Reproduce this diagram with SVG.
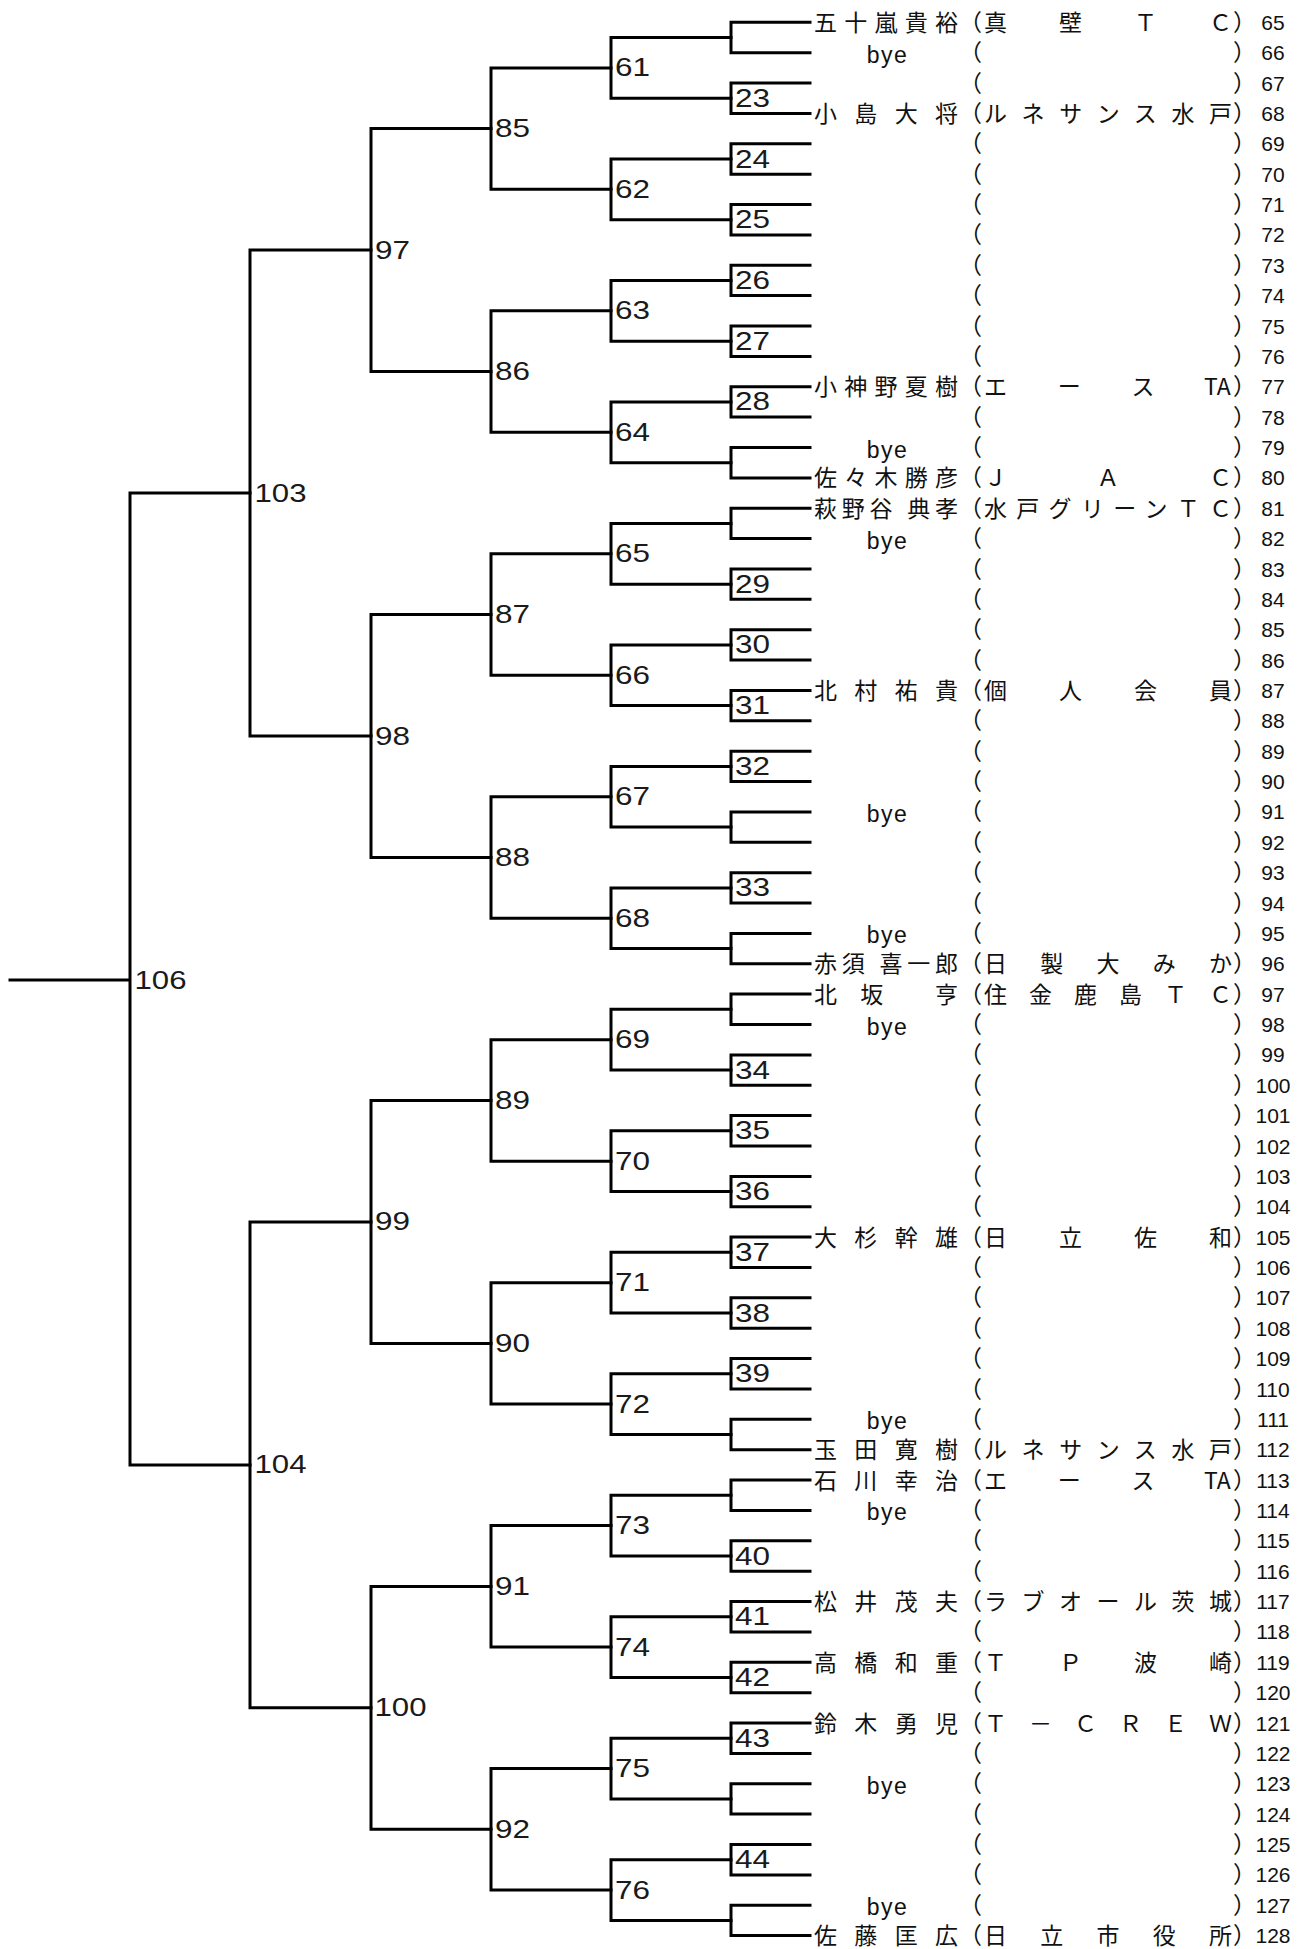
<svg xmlns="http://www.w3.org/2000/svg" width="1303" height="1949" viewBox="0 0 1303 1949">
<style>
.ln{fill:none;stroke:#000;stroke-width:3;stroke-linecap:square;stroke-linejoin:miter}
.lb{font-family:"Liberation Sans",Arial,sans-serif;font-size:25px;fill:#1a1a1a}
.nm{font-family:"Noto Sans CJK JP","Noto Sans CJK SC",sans-serif;font-size:23px;fill:#111}
.pl{font-family:"Noto Sans CJK JP","Noto Sans CJK SC",sans-serif;font-size:23px;fill:#111;text-anchor:end}
.pr{font-family:"Noto Sans CJK JP","Noto Sans CJK SC",sans-serif;font-size:23px;fill:#111}
.by{font-family:"Liberation Sans",Arial,sans-serif;font-size:23px;letter-spacing:1.5px;text-anchor:middle;fill:#111}
.rn{font-family:"Liberation Sans",Arial,sans-serif;font-size:21px;text-anchor:middle;fill:#111}
</style>
<rect width="1303" height="1949" fill="#fff"/>
<g id="connectors" class="ln">
<path d="M810 22.3H731V52.7H810M810 83H731V113.4H810M810 143.8H731V174.2H810M810 204.5H731V234.9H810M810 265.3H731V295.6H810M810 326H731V356.4H810M810 386.7H731V417.1H810M810 447.5H731V477.9H810M810 508.2H731V538.6H810M810 569H731V599.3H810M810 629.7H731V660.1H810M810 690.4H731V720.8H810M810 751.2H731V781.6H810M810 811.9H731V842.3H810M810 872.7H731V903H810M810 933.4H731V963.8H810M810 994.1H731V1024.5H810M810 1054.9H731V1085.3H810M810 1115.6H731V1146H810M810 1176.4H731V1206.7H810M810 1237.1H731V1267.5H810M810 1297.8H731V1328.2H810M810 1358.6H731V1389H810M810 1419.3H731V1449.7H810M810 1480.1H731V1510.4H810M810 1540.8H731V1571.2H810M810 1601.5H731V1631.9H810M810 1662.3H731V1692.7H810M810 1723H731V1753.4H810M810 1783.8H731V1814.1H810M810 1844.5H731V1874.9H810M810 1905.2H731V1935.6H810"/>
<path d="M731 37.5H611V98.2H731M731 159H611V219.7H731M731 280.5H611V341.2H731M731 401.9H611V462.7H731M731 523.4H611V584.2H731M731 644.9H611V705.6H731M731 766.4H611V827.1H731M731 887.9H611V948.6H731M731 1009.3H611V1070.1H731M731 1130.8H611V1191.6H731M731 1252.3H611V1313H731M731 1373.8H611V1434.5H731M731 1495.3H611V1556H731M731 1616.7H611V1677.5H731M731 1738.2H611V1799H731M731 1859.7H611V1920.4H731"/>
<path d="M611 67.9H491V189.3H611M611 310.8H491V432.3H611M611 553.8H491V675.3H611M611 796.7H491V918.2H611M611 1039.7H491V1161.2H611M611 1282.7H491V1404.1H611M611 1525.6H491V1647.1H611M611 1768.6H491V1890.1H611"/>
<path d="M491 128.6H371V371.6H491M491 614.5H371V857.5H491M491 1100.4H371V1343.4H491M491 1586.4H371V1829.3H491"/>
<path d="M371 250.1H250V736H371M371 1221.9H250V1707.8H371"/>
<path d="M250 493H130V1464.9H250M130 980H10"/>
</g>
<g id="matches" class="lb">
<g id="m23"><text x="735" y="106.7" textLength="35" lengthAdjust="spacingAndGlyphs">23</text></g>
<g id="m24"><text x="735" y="167.5" textLength="35" lengthAdjust="spacingAndGlyphs">24</text></g>
<g id="m25"><text x="735" y="228.2" textLength="35" lengthAdjust="spacingAndGlyphs">25</text></g>
<g id="m26"><text x="735" y="289" textLength="35" lengthAdjust="spacingAndGlyphs">26</text></g>
<g id="m27"><text x="735" y="349.7" textLength="35" lengthAdjust="spacingAndGlyphs">27</text></g>
<g id="m28"><text x="735" y="410.4" textLength="35" lengthAdjust="spacingAndGlyphs">28</text></g>
<g id="m29"><text x="735" y="592.7" textLength="35" lengthAdjust="spacingAndGlyphs">29</text></g>
<g id="m30"><text x="735" y="653.4" textLength="35" lengthAdjust="spacingAndGlyphs">30</text></g>
<g id="m31"><text x="735" y="714.1" textLength="35" lengthAdjust="spacingAndGlyphs">31</text></g>
<g id="m32"><text x="735" y="774.9" textLength="35" lengthAdjust="spacingAndGlyphs">32</text></g>
<g id="m33"><text x="735" y="896.4" textLength="35" lengthAdjust="spacingAndGlyphs">33</text></g>
<g id="m34"><text x="735" y="1078.6" textLength="35" lengthAdjust="spacingAndGlyphs">34</text></g>
<g id="m35"><text x="735" y="1139.3" textLength="35" lengthAdjust="spacingAndGlyphs">35</text></g>
<g id="m36"><text x="735" y="1200.1" textLength="35" lengthAdjust="spacingAndGlyphs">36</text></g>
<g id="m37"><text x="735" y="1260.8" textLength="35" lengthAdjust="spacingAndGlyphs">37</text></g>
<g id="m38"><text x="735" y="1321.5" textLength="35" lengthAdjust="spacingAndGlyphs">38</text></g>
<g id="m39"><text x="735" y="1382.3" textLength="35" lengthAdjust="spacingAndGlyphs">39</text></g>
<g id="m40"><text x="735" y="1564.5" textLength="35" lengthAdjust="spacingAndGlyphs">40</text></g>
<g id="m41"><text x="735" y="1625.2" textLength="35" lengthAdjust="spacingAndGlyphs">41</text></g>
<g id="m42"><text x="735" y="1686" textLength="35" lengthAdjust="spacingAndGlyphs">42</text></g>
<g id="m43"><text x="735" y="1746.7" textLength="35" lengthAdjust="spacingAndGlyphs">43</text></g>
<g id="m44"><text x="735" y="1868.2" textLength="35" lengthAdjust="spacingAndGlyphs">44</text></g>
<g id="m61"><text x="615" y="76.4" textLength="35" lengthAdjust="spacingAndGlyphs">61</text></g>
<g id="m62"><text x="615" y="197.8" textLength="35" lengthAdjust="spacingAndGlyphs">62</text></g>
<g id="m63"><text x="615" y="319.3" textLength="35" lengthAdjust="spacingAndGlyphs">63</text></g>
<g id="m64"><text x="615" y="440.8" textLength="35" lengthAdjust="spacingAndGlyphs">64</text></g>
<g id="m65"><text x="615" y="562.3" textLength="35" lengthAdjust="spacingAndGlyphs">65</text></g>
<g id="m66"><text x="615" y="683.8" textLength="35" lengthAdjust="spacingAndGlyphs">66</text></g>
<g id="m67"><text x="615" y="805.2" textLength="35" lengthAdjust="spacingAndGlyphs">67</text></g>
<g id="m68"><text x="615" y="926.7" textLength="35" lengthAdjust="spacingAndGlyphs">68</text></g>
<g id="m69"><text x="615" y="1048.2" textLength="35" lengthAdjust="spacingAndGlyphs">69</text></g>
<g id="m70"><text x="615" y="1169.7" textLength="35" lengthAdjust="spacingAndGlyphs">70</text></g>
<g id="m71"><text x="615" y="1291.2" textLength="35" lengthAdjust="spacingAndGlyphs">71</text></g>
<g id="m72"><text x="615" y="1412.6" textLength="35" lengthAdjust="spacingAndGlyphs">72</text></g>
<g id="m73"><text x="615" y="1534.1" textLength="35" lengthAdjust="spacingAndGlyphs">73</text></g>
<g id="m74"><text x="615" y="1655.6" textLength="35" lengthAdjust="spacingAndGlyphs">74</text></g>
<g id="m75"><text x="615" y="1777.1" textLength="35" lengthAdjust="spacingAndGlyphs">75</text></g>
<g id="m76"><text x="615" y="1898.6" textLength="35" lengthAdjust="spacingAndGlyphs">76</text></g>
<g id="m85"><text x="495" y="137.1" textLength="35" lengthAdjust="spacingAndGlyphs">85</text></g>
<g id="m86"><text x="495" y="380.1" textLength="35" lengthAdjust="spacingAndGlyphs">86</text></g>
<g id="m87"><text x="495" y="623" textLength="35" lengthAdjust="spacingAndGlyphs">87</text></g>
<g id="m88"><text x="495" y="866" textLength="35" lengthAdjust="spacingAndGlyphs">88</text></g>
<g id="m89"><text x="495" y="1108.9" textLength="35" lengthAdjust="spacingAndGlyphs">89</text></g>
<g id="m90"><text x="495" y="1351.9" textLength="35" lengthAdjust="spacingAndGlyphs">90</text></g>
<g id="m91"><text x="495" y="1594.9" textLength="35" lengthAdjust="spacingAndGlyphs">91</text></g>
<g id="m92"><text x="495" y="1837.8" textLength="35" lengthAdjust="spacingAndGlyphs">92</text></g>
<g id="m97"><text x="375" y="258.6" textLength="35" lengthAdjust="spacingAndGlyphs">97</text></g>
<g id="m98"><text x="375" y="744.5" textLength="35" lengthAdjust="spacingAndGlyphs">98</text></g>
<g id="m99"><text x="375" y="1230.4" textLength="35" lengthAdjust="spacingAndGlyphs">99</text></g>
<g id="m100"><text x="374.5" y="1716.3" textLength="52" lengthAdjust="spacingAndGlyphs">100</text></g>
<g id="m103"><text x="254.5" y="501.5" textLength="52" lengthAdjust="spacingAndGlyphs">103</text></g>
<g id="m104"><text x="254.5" y="1473.4" textLength="52" lengthAdjust="spacingAndGlyphs">104</text></g>
<g id="m106"><text x="134.5" y="988.5" textLength="52" lengthAdjust="spacingAndGlyphs">106</text></g>
</g>
<g id="entries">
<g id="e65" transform="translate(0,22.3)"><text class="nm" x="814" y="8.5" textLength="144">五十嵐貴裕</text><text class="pl" x="982" y="8.5">（</text><text class="nm" x="984" y="8.5" textLength="248">真壁ＴＣ</text><text class="pr" x="1233" y="8.5">）</text><text class="rn" x="1273" y="7.5">65</text></g>
<g id="e66" transform="translate(0,52.7)"><text class="by" x="887.5" y="10">bye</text><text class="pl" x="982" y="8.5">（</text><text class="pr" x="1233" y="8.5">）</text><text class="rn" x="1273" y="7.5">66</text></g>
<g id="e67" transform="translate(0,83)"><text class="pl" x="982" y="8.5">（</text><text class="pr" x="1233" y="8.5">）</text><text class="rn" x="1273" y="7.5">67</text></g>
<g id="e68" transform="translate(0,113.4)"><text class="nm" x="814" y="8.5" textLength="144">小島大将</text><text class="pl" x="982" y="8.5">（</text><text class="nm" x="984" y="8.5" textLength="248">ルネサンス水戸</text><text class="pr" x="1233" y="8.5">）</text><text class="rn" x="1273" y="7.5">68</text></g>
<g id="e69" transform="translate(0,143.8)"><text class="pl" x="982" y="8.5">（</text><text class="pr" x="1233" y="8.5">）</text><text class="rn" x="1273" y="7.5">69</text></g>
<g id="e70" transform="translate(0,174.2)"><text class="pl" x="982" y="8.5">（</text><text class="pr" x="1233" y="8.5">）</text><text class="rn" x="1273" y="7.5">70</text></g>
<g id="e71" transform="translate(0,204.5)"><text class="pl" x="982" y="8.5">（</text><text class="pr" x="1233" y="8.5">）</text><text class="rn" x="1273" y="7.5">71</text></g>
<g id="e72" transform="translate(0,234.9)"><text class="pl" x="982" y="8.5">（</text><text class="pr" x="1233" y="8.5">）</text><text class="rn" x="1273" y="7.5">72</text></g>
<g id="e73" transform="translate(0,265.3)"><text class="pl" x="982" y="8.5">（</text><text class="pr" x="1233" y="8.5">）</text><text class="rn" x="1273" y="7.5">73</text></g>
<g id="e74" transform="translate(0,295.6)"><text class="pl" x="982" y="8.5">（</text><text class="pr" x="1233" y="8.5">）</text><text class="rn" x="1273" y="7.5">74</text></g>
<g id="e75" transform="translate(0,326)"><text class="pl" x="982" y="8.5">（</text><text class="pr" x="1233" y="8.5">）</text><text class="rn" x="1273" y="7.5">75</text></g>
<g id="e76" transform="translate(0,356.4)"><text class="pl" x="982" y="8.5">（</text><text class="pr" x="1233" y="8.5">）</text><text class="rn" x="1273" y="7.5">76</text></g>
<g id="e77" transform="translate(0,386.7)"><text class="nm" x="814" y="8.5" textLength="144">小神野夏樹</text><text class="pl" x="982" y="8.5">（</text><text class="nm" x="984 1057.7 1131.4 1204" y="8.5">エースTA</text><text class="pr" x="1233" y="8.5">）</text><text class="rn" x="1273" y="7.5">77</text></g>
<g id="e78" transform="translate(0,417.1)"><text class="pl" x="982" y="8.5">（</text><text class="pr" x="1233" y="8.5">）</text><text class="rn" x="1273" y="7.5">78</text></g>
<g id="e79" transform="translate(0,447.5)"><text class="by" x="887.5" y="10">bye</text><text class="pl" x="982" y="8.5">（</text><text class="pr" x="1233" y="8.5">）</text><text class="rn" x="1273" y="7.5">79</text></g>
<g id="e80" transform="translate(0,477.9)"><text class="nm" x="814" y="8.5" textLength="144">佐々木勝彦</text><text class="pl" x="982" y="8.5">（</text><text class="nm" x="984" y="8.5" textLength="248">ＪＡＣ</text><text class="pr" x="1233" y="8.5">）</text><text class="rn" x="1273" y="7.5">80</text></g>
<g id="e81" transform="translate(0,508.2)"><text class="nm" x="814" y="8.5" textLength="144">萩野谷 典孝</text><text class="pl" x="982" y="8.5">（</text><text class="nm" x="984" y="8.5" textLength="248">水戸グリーンＴＣ</text><text class="pr" x="1233" y="8.5">）</text><text class="rn" x="1273" y="7.5">81</text></g>
<g id="e82" transform="translate(0,538.6)"><text class="by" x="887.5" y="10">bye</text><text class="pl" x="982" y="8.5">（</text><text class="pr" x="1233" y="8.5">）</text><text class="rn" x="1273" y="7.5">82</text></g>
<g id="e83" transform="translate(0,569)"><text class="pl" x="982" y="8.5">（</text><text class="pr" x="1233" y="8.5">）</text><text class="rn" x="1273" y="7.5">83</text></g>
<g id="e84" transform="translate(0,599.3)"><text class="pl" x="982" y="8.5">（</text><text class="pr" x="1233" y="8.5">）</text><text class="rn" x="1273" y="7.5">84</text></g>
<g id="e85" transform="translate(0,629.7)"><text class="pl" x="982" y="8.5">（</text><text class="pr" x="1233" y="8.5">）</text><text class="rn" x="1273" y="7.5">85</text></g>
<g id="e86" transform="translate(0,660.1)"><text class="pl" x="982" y="8.5">（</text><text class="pr" x="1233" y="8.5">）</text><text class="rn" x="1273" y="7.5">86</text></g>
<g id="e87" transform="translate(0,690.4)"><text class="nm" x="814" y="8.5" textLength="144">北村祐貴</text><text class="pl" x="982" y="8.5">（</text><text class="nm" x="984" y="8.5" textLength="248">個人会員</text><text class="pr" x="1233" y="8.5">）</text><text class="rn" x="1273" y="7.5">87</text></g>
<g id="e88" transform="translate(0,720.8)"><text class="pl" x="982" y="8.5">（</text><text class="pr" x="1233" y="8.5">）</text><text class="rn" x="1273" y="7.5">88</text></g>
<g id="e89" transform="translate(0,751.2)"><text class="pl" x="982" y="8.5">（</text><text class="pr" x="1233" y="8.5">）</text><text class="rn" x="1273" y="7.5">89</text></g>
<g id="e90" transform="translate(0,781.6)"><text class="pl" x="982" y="8.5">（</text><text class="pr" x="1233" y="8.5">）</text><text class="rn" x="1273" y="7.5">90</text></g>
<g id="e91" transform="translate(0,811.9)"><text class="by" x="887.5" y="10">bye</text><text class="pl" x="982" y="8.5">（</text><text class="pr" x="1233" y="8.5">）</text><text class="rn" x="1273" y="7.5">91</text></g>
<g id="e92" transform="translate(0,842.3)"><text class="pl" x="982" y="8.5">（</text><text class="pr" x="1233" y="8.5">）</text><text class="rn" x="1273" y="7.5">92</text></g>
<g id="e93" transform="translate(0,872.7)"><text class="pl" x="982" y="8.5">（</text><text class="pr" x="1233" y="8.5">）</text><text class="rn" x="1273" y="7.5">93</text></g>
<g id="e94" transform="translate(0,903)"><text class="pl" x="982" y="8.5">（</text><text class="pr" x="1233" y="8.5">）</text><text class="rn" x="1273" y="7.5">94</text></g>
<g id="e95" transform="translate(0,933.4)"><text class="by" x="887.5" y="10">bye</text><text class="pl" x="982" y="8.5">（</text><text class="pr" x="1233" y="8.5">）</text><text class="rn" x="1273" y="7.5">95</text></g>
<g id="e96" transform="translate(0,963.8)"><text class="nm" x="814" y="8.5" textLength="144">赤須 喜一郎</text><text class="pl" x="982" y="8.5">（</text><text class="nm" x="984" y="8.5" textLength="248">日製大みか</text><text class="pr" x="1233" y="8.5">）</text><text class="rn" x="1273" y="7.5">96</text></g>
<g id="e97" transform="translate(0,994.1)"><text class="nm" x="814" y="8.5" textLength="144">北坂 亨</text><text class="pl" x="982" y="8.5">（</text><text class="nm" x="984" y="8.5" textLength="248">住金鹿島ＴＣ</text><text class="pr" x="1233" y="8.5">）</text><text class="rn" x="1273" y="7.5">97</text></g>
<g id="e98" transform="translate(0,1024.5)"><text class="by" x="887.5" y="10">bye</text><text class="pl" x="982" y="8.5">（</text><text class="pr" x="1233" y="8.5">）</text><text class="rn" x="1273" y="7.5">98</text></g>
<g id="e99" transform="translate(0,1054.9)"><text class="pl" x="982" y="8.5">（</text><text class="pr" x="1233" y="8.5">）</text><text class="rn" x="1273" y="7.5">99</text></g>
<g id="e100" transform="translate(0,1085.3)"><text class="pl" x="982" y="8.5">（</text><text class="pr" x="1233" y="8.5">）</text><text class="rn" x="1273" y="7.5">100</text></g>
<g id="e101" transform="translate(0,1115.6)"><text class="pl" x="982" y="8.5">（</text><text class="pr" x="1233" y="8.5">）</text><text class="rn" x="1273" y="7.5">101</text></g>
<g id="e102" transform="translate(0,1146)"><text class="pl" x="982" y="8.5">（</text><text class="pr" x="1233" y="8.5">）</text><text class="rn" x="1273" y="7.5">102</text></g>
<g id="e103" transform="translate(0,1176.4)"><text class="pl" x="982" y="8.5">（</text><text class="pr" x="1233" y="8.5">）</text><text class="rn" x="1273" y="7.5">103</text></g>
<g id="e104" transform="translate(0,1206.7)"><text class="pl" x="982" y="8.5">（</text><text class="pr" x="1233" y="8.5">）</text><text class="rn" x="1273" y="7.5">104</text></g>
<g id="e105" transform="translate(0,1237.1)"><text class="nm" x="814" y="8.5" textLength="144">大杉幹雄</text><text class="pl" x="982" y="8.5">（</text><text class="nm" x="984" y="8.5" textLength="248">日立佐和</text><text class="pr" x="1233" y="8.5">）</text><text class="rn" x="1273" y="7.5">105</text></g>
<g id="e106" transform="translate(0,1267.5)"><text class="pl" x="982" y="8.5">（</text><text class="pr" x="1233" y="8.5">）</text><text class="rn" x="1273" y="7.5">106</text></g>
<g id="e107" transform="translate(0,1297.8)"><text class="pl" x="982" y="8.5">（</text><text class="pr" x="1233" y="8.5">）</text><text class="rn" x="1273" y="7.5">107</text></g>
<g id="e108" transform="translate(0,1328.2)"><text class="pl" x="982" y="8.5">（</text><text class="pr" x="1233" y="8.5">）</text><text class="rn" x="1273" y="7.5">108</text></g>
<g id="e109" transform="translate(0,1358.6)"><text class="pl" x="982" y="8.5">（</text><text class="pr" x="1233" y="8.5">）</text><text class="rn" x="1273" y="7.5">109</text></g>
<g id="e110" transform="translate(0,1389)"><text class="pl" x="982" y="8.5">（</text><text class="pr" x="1233" y="8.5">）</text><text class="rn" x="1273" y="7.5">110</text></g>
<g id="e111" transform="translate(0,1419.3)"><text class="by" x="887.5" y="10">bye</text><text class="pl" x="982" y="8.5">（</text><text class="pr" x="1233" y="8.5">）</text><text class="rn" x="1273" y="7.5">111</text></g>
<g id="e112" transform="translate(0,1449.7)"><text class="nm" x="814" y="8.5" textLength="144">玉田寛樹</text><text class="pl" x="982" y="8.5">（</text><text class="nm" x="984" y="8.5" textLength="248">ルネサンス水戸</text><text class="pr" x="1233" y="8.5">）</text><text class="rn" x="1273" y="7.5">112</text></g>
<g id="e113" transform="translate(0,1480.1)"><text class="nm" x="814" y="8.5" textLength="144">石川幸治</text><text class="pl" x="982" y="8.5">（</text><text class="nm" x="984 1057.7 1131.4 1204" y="8.5">エースTA</text><text class="pr" x="1233" y="8.5">）</text><text class="rn" x="1273" y="7.5">113</text></g>
<g id="e114" transform="translate(0,1510.4)"><text class="by" x="887.5" y="10">bye</text><text class="pl" x="982" y="8.5">（</text><text class="pr" x="1233" y="8.5">）</text><text class="rn" x="1273" y="7.5">114</text></g>
<g id="e115" transform="translate(0,1540.8)"><text class="pl" x="982" y="8.5">（</text><text class="pr" x="1233" y="8.5">）</text><text class="rn" x="1273" y="7.5">115</text></g>
<g id="e116" transform="translate(0,1571.2)"><text class="pl" x="982" y="8.5">（</text><text class="pr" x="1233" y="8.5">）</text><text class="rn" x="1273" y="7.5">116</text></g>
<g id="e117" transform="translate(0,1601.5)"><text class="nm" x="814" y="8.5" textLength="144">松井茂夫</text><text class="pl" x="982" y="8.5">（</text><text class="nm" x="984" y="8.5" textLength="248">ラブオール茨城</text><text class="pr" x="1233" y="8.5">）</text><text class="rn" x="1273" y="7.5">117</text></g>
<g id="e118" transform="translate(0,1631.9)"><text class="pl" x="982" y="8.5">（</text><text class="pr" x="1233" y="8.5">）</text><text class="rn" x="1273" y="7.5">118</text></g>
<g id="e119" transform="translate(0,1662.3)"><text class="nm" x="814" y="8.5" textLength="144">高橋和重</text><text class="pl" x="982" y="8.5">（</text><text class="nm" x="984" y="8.5" textLength="248">ＴＰ波崎</text><text class="pr" x="1233" y="8.5">）</text><text class="rn" x="1273" y="7.5">119</text></g>
<g id="e120" transform="translate(0,1692.7)"><text class="pl" x="982" y="8.5">（</text><text class="pr" x="1233" y="8.5">）</text><text class="rn" x="1273" y="7.5">120</text></g>
<g id="e121" transform="translate(0,1723)"><text class="nm" x="814" y="8.5" textLength="144">鈴木勇児</text><text class="pl" x="982" y="8.5">（</text><text class="nm" x="984" y="8.5" textLength="248">Ｔ－ＣＲＥＷ</text><text class="pr" x="1233" y="8.5">）</text><text class="rn" x="1273" y="7.5">121</text></g>
<g id="e122" transform="translate(0,1753.4)"><text class="pl" x="982" y="8.5">（</text><text class="pr" x="1233" y="8.5">）</text><text class="rn" x="1273" y="7.5">122</text></g>
<g id="e123" transform="translate(0,1783.8)"><text class="by" x="887.5" y="10">bye</text><text class="pl" x="982" y="8.5">（</text><text class="pr" x="1233" y="8.5">）</text><text class="rn" x="1273" y="7.5">123</text></g>
<g id="e124" transform="translate(0,1814.1)"><text class="pl" x="982" y="8.5">（</text><text class="pr" x="1233" y="8.5">）</text><text class="rn" x="1273" y="7.5">124</text></g>
<g id="e125" transform="translate(0,1844.5)"><text class="pl" x="982" y="8.5">（</text><text class="pr" x="1233" y="8.5">）</text><text class="rn" x="1273" y="7.5">125</text></g>
<g id="e126" transform="translate(0,1874.9)"><text class="pl" x="982" y="8.5">（</text><text class="pr" x="1233" y="8.5">）</text><text class="rn" x="1273" y="7.5">126</text></g>
<g id="e127" transform="translate(0,1905.2)"><text class="by" x="887.5" y="10">bye</text><text class="pl" x="982" y="8.5">（</text><text class="pr" x="1233" y="8.5">）</text><text class="rn" x="1273" y="7.5">127</text></g>
<g id="e128" transform="translate(0,1935.6)"><text class="nm" x="814" y="8.5" textLength="144">佐藤匡広</text><text class="pl" x="982" y="8.5">（</text><text class="nm" x="984" y="8.5" textLength="248">日立市役所</text><text class="pr" x="1233" y="8.5">）</text><text class="rn" x="1273" y="7.5">128</text></g>
</g>
</svg>
